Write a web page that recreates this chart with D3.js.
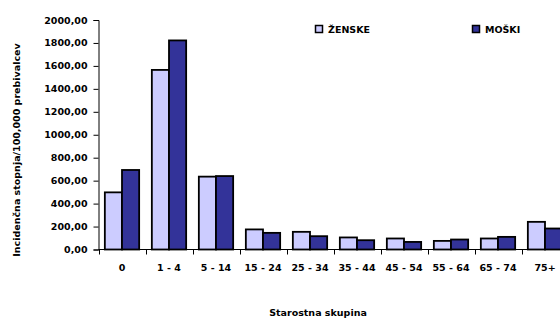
<!DOCTYPE html>
<html>
<head>
<meta charset="utf-8">
<script src="https://cdn.jsdelivr.net/npm/d3@7"></script>
<style>
  html, body { margin: 0; padding: 0; background: #fff; overflow: hidden; }
  svg { display: block; }
  text { font-family: "DejaVu Sans", Verdana, sans-serif; font-weight: bold; font-size: 9.5px; fill: #000; }
</style>
</head>
<body>
<svg id="chart" width="560" height="320"></svg>
<script>
// Age groups and incidence rates per 100,000 inhabitants
const categories = ["0", "1 - 4", "5 - 14", "15 - 24", "25 - 34", "35 - 44", "45 - 54", "55 - 64", "65 - 74", "75+"];
const zenske = [498, 1565, 635, 175, 154, 105, 96, 75, 96, 241];
const moski  = [693, 1822, 640, 145, 116, 81, 66, 87, 110, 183];
const seriesNames = ["ŽENSKE", "MOŠKI"];
const seriesColors = ["#CCCCFF", "#333399"];
const yTicks = [0, 200, 400, 600, 800, 1000, 1200, 1400, 1600, 1800, 2000];

(function () {
const svg = d3.select("#chart");
const mLeft = 98.5, mRight = 568.5, mTop = 20, mBottom = 249.5;

const x = d3.scaleBand().domain(categories).range([mLeft, mRight]).paddingInner(0.27).paddingOuter(0.135);
const xBand = d3.scaleBand().domain(categories).range([mLeft, mRight]).padding(0);
const x1 = d3.scaleBand().domain(seriesNames).range([0, x.bandwidth()]);
const y = d3.scaleLinear().domain([0, 2000]).range([mBottom, mTop]);

const fmt = v => d3.format(".2f")(v).replace(".", ",");

// Y axis
const yAxis = svg.append("g")
  .attr("transform", `translate(${mLeft},0)`)
  .call(d3.axisLeft(y).tickValues(yTicks).tickFormat(fmt).tickSize(5).tickPadding(6));
yAxis.selectAll("line, path").attr("stroke", "#000");
yAxis.selectAll("text").style("font-family", "\"DejaVu Sans\", Verdana, sans-serif").style("font-size", "9.5px").style("font-weight", "bold");

// X axis: ticks at band boundaries
const xAxisG = svg.append("g").attr("transform", `translate(0,${mBottom})`);
xAxisG.append("line").attr("x1", mLeft).attr("x2", mRight).attr("stroke", "#000");
xAxisG.selectAll("line.tick").data(categories).enter().append("line")
  .attr("class", "tick")
  .attr("x1", d => Math.round(xBand(d)) + 0.5).attr("x2", d => Math.round(xBand(d)) + 0.5)
  .attr("y1", 0).attr("y2", 5).attr("stroke", "#000");
xAxisG.selectAll("text").data(categories).enter().append("text")
  .attr("x", d => xBand(d) + xBand.bandwidth() / 2)
  .attr("y", 21)
  .attr("text-anchor", "middle")
  .text(d => d);

// Bars
const groups = svg.append("g").selectAll("g").data(categories).enter().append("g")
  .attr("transform", d => `translate(${x(d)},0)`);
groups.selectAll("rect")
  .data((d, i) => [{ s: seriesNames[0], v: zenske[i] }, { s: seriesNames[1], v: moski[i] }])
  .enter().append("rect")
  .attr("x", d => x1(d.s))
  .attr("y", d => y(d.v))
  .attr("width", x1.bandwidth())
  .attr("height", d => mBottom - y(d.v))
  .attr("fill", (d, i) => seriesColors[i])
  .attr("stroke", "#000")
  .attr("stroke-width", 1.8);

// Legend
const legendX = [315, 472];
const legend = svg.append("g").selectAll("g").data(seriesNames).enter().append("g")
  .attr("transform", (d, i) => `translate(${legendX[i]},25)`);
legend.append("rect").attr("x", 0.5).attr("y", 0.5).attr("width", 7).attr("height", 7)
  .attr("fill", (d, i) => seriesColors[i]).attr("stroke", "#000").attr("stroke-width", 1.5);
legend.append("text").attr("x", 13).attr("y", 8).text(d => d);

// Axis titles
svg.append("text")
  .attr("transform", "translate(20,150) rotate(-90)")
  .attr("text-anchor", "middle")
  .text("Incidenčna stopnja/100,000 prebivalcev");
svg.append("text")
  .attr("x", 318).attr("y", 316)
  .attr("text-anchor", "middle")
  .text("Starostna skupina");
})();
</script>
</body>
</html>
